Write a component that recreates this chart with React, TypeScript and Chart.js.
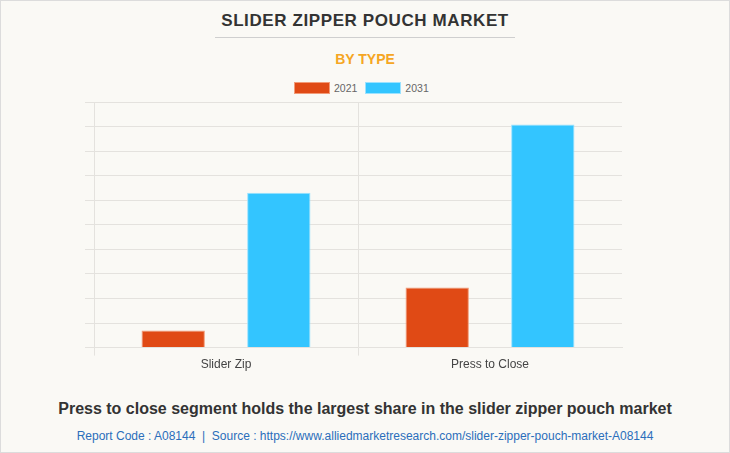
import React, { useEffect, useRef } from "react";
import { Chart, registerables } from "chart.js";

Chart.register(...registerables);

const categories = ["Slider Zip", "Press to Close"];
const series2021 = [0.7, 2.45];
const series2031 = [6.3, 9.08];
const seriesLabels = ["2021", "2031"];
const seriesColors = ["#e04a15", "#33c5ff"];
const seriesBorders = ["#f29b78", "#9be2ff"];

export default function App() {
  const ref = useRef<HTMLCanvasElement | null>(null);
  useEffect(() => {
    if (!ref.current) return;
    const chart = new Chart(ref.current, {
      type: "bar",
      data: {
        labels: categories,
        datasets: [
          {
            label: seriesLabels[0],
            data: series2021,
            backgroundColor: seriesColors[0],
            borderColor: seriesBorders[0],
            borderWidth: 1,
          },
          {
            label: seriesLabels[1],
            data: series2031,
            backgroundColor: seriesColors[1],
            borderColor: seriesBorders[1],
            borderWidth: 1,
          },
        ],
      },
      options: {
        animation: false,
        responsive: false,
        maintainAspectRatio: false,
        layout: { padding: { left: 84, right: 107, top: 5, bottom: 0 } },
        datasets: { bar: { categoryPercentage: 0.8, barPercentage: 0.6 } },
        plugins: {
          legend: { display: false },
          tooltip: { enabled: false },
        },
        scales: {
          x: {
            grid: {
              display: true,
              offset: true,
              tickLength: 8,
              color: (ctx: any) =>
                ctx.type === "tick" && ctx.index < categories.length ? "#e4e2de" : "rgba(0,0,0,0)",
            },
            border: { display: true, color: "#e4e2de" },
            ticks: {
              color: "#444",
              font: { family: "Arial, 'Liberation Sans'", size: 12 },
              padding: 2,
            },
          },
          y: {
            min: 0,
            max: 10,
            ticks: { display: false, stepSize: 1 },
            grid: { color: "#e4e2de", tickLength: 9 },
            border: { display: true, color: "#e4e2de" },
          },
        },
      },
    });
    return () => chart.destroy();
  }, []);

  const legendItem = (i: number) => (
    <div style={{ display: "flex", alignItems: "center", marginRight: i === 0 ? 8 : 0 }}>
      <div
        style={{
          width: 36,
          height: 12,
          boxSizing: "border-box",
          background: seriesColors[i],
          border: `1px solid ${seriesBorders[i]}`,
          marginRight: 4,
        }}
      />
      <span style={{ fontSize: 10.5, color: "#666", lineHeight: "12px" }}>{seriesLabels[i]}</span>
    </div>
  );

  return (
    <div
      style={{
        position: "absolute",
        left: 0,
        top: 0,
        width: 730,
        height: 453,
        boxSizing: "border-box",
        border: "1px solid #dcdcdc",
        background: "#faf9f5",
        fontFamily: "Arial, 'Liberation Sans', sans-serif",
        overflow: "hidden",
      }}
    >
      <div
        style={{
          position: "absolute",
          top: 9,
          left: 0,
          width: 728,
          textAlign: "center",
          fontWeight: "bold",
          fontSize: 17,
          letterSpacing: 0.6,
          color: "#333",
          lineHeight: "22px",
        }}
      >
        SLIDER ZIPPER POUCH MARKET
      </div>
      <div
        style={{
          position: "absolute",
          top: 36,
          left: 214,
          width: 300,
          height: 1,
          background: "#cfcfcf",
        }}
      />
      <div
        style={{
          position: "absolute",
          top: 49,
          left: 0,
          width: 728,
          textAlign: "center",
          fontWeight: "bold",
          fontSize: 14,
          color: "#f5a623",
          lineHeight: "18px",
        }}
      >
        BY TYPE
      </div>
      <div
        style={{
          position: "absolute",
          top: 81,
          left: 293,
          display: "flex",
          alignItems: "center",
        }}
      >
        {legendItem(0)}
        {legendItem(1)}
      </div>
      <canvas
        ref={ref}
        width={728}
        height={277}
        style={{ position: "absolute", left: 0, top: 96, width: 728, height: 277 }}
      />
      <div
        style={{
          position: "absolute",
          top: 397,
          left: 0,
          width: 728,
          textAlign: "center",
          fontWeight: "bold",
          fontSize: 16,
          color: "#333",
          lineHeight: "22px",
        }}
      >
        Press to close segment holds the largest share in the slider zipper pouch market
      </div>
      <div
        style={{
          position: "absolute",
          top: 427,
          left: 0,
          width: 728,
          textAlign: "center",
          fontSize: 12,
          color: "#2a6ebb",
          lineHeight: "16px",
        }}
      >
        Report Code : A08144 &nbsp;|&nbsp; Source : https://www.alliedmarketresearch.com/slider-zipper-pouch-market-A08144
      </div>
    </div>
  );
}
